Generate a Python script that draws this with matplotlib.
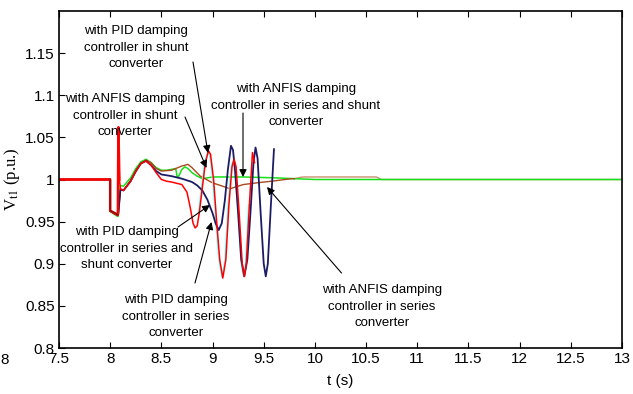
import matplotlib
matplotlib.use("Agg")
import matplotlib.pyplot as plt
from matplotlib import font_manager

# ---------------- data ----------------
t_green = [7.5, 8.0, 8.0, 8.075, 8.08, 8.1, 8.13, 8.2, 8.25, 8.3, 8.35, 8.4, 8.45, 8.5,
           8.55, 8.6, 8.64, 8.655, 8.67, 8.7, 8.73, 8.76, 8.8, 8.85, 8.9, 9.0, 9.3, 9.6,
           9.8, 10.0, 13.0]
v_green = [1.0, 1.0, 0.962, 0.956, 0.96, 0.993, 0.992, 1.002, 1.013, 1.021, 1.024, 1.02,
           1.014, 1.011, 1.011, 1.012, 1.013, 1.003, 1.004, 1.012, 1.015, 1.013, 1.008,
           1.004, 1.001, 1.003, 1.003, 1.002, 1.001, 1.0, 1.0]

t_brown = [7.5, 8.0, 8.0, 8.075, 8.08, 8.1, 8.13, 8.2, 8.3, 8.35, 8.4, 8.45, 8.5, 8.6,
           8.7, 8.76, 8.8, 8.88, 9.0, 9.1, 9.17, 9.3, 9.43, 9.58, 9.76, 9.8]
v_brown = [1.0, 1.0, 0.962, 0.957, 0.96, 0.988, 0.987, 0.999, 1.019, 1.023, 1.02, 1.013,
           1.01, 1.011, 1.016, 1.018, 1.014, 1.004, 0.996, 0.992, 0.989, 0.994, 0.996,
           0.998, 1.0008, 1.001]

t_tan = [9.8, 9.88, 10.6, 10.65, 13.0]
v_tan = [1.001, 1.003, 1.003, 1.0, 1.0]

t_navy = [7.5, 8.0, 8.0, 8.075, 8.08, 8.1, 8.13, 8.2, 8.25, 8.3, 8.35, 8.4, 8.45, 8.5,
          8.55, 8.6, 8.7, 8.8, 8.85, 8.9, 8.95, 9.0, 9.03, 9.06, 9.09, 9.12, 9.15, 9.18,
          9.2, 9.22, 9.25, 9.28, 9.31, 9.34, 9.37, 9.40, 9.42, 9.44, 9.47, 9.50, 9.52,
          9.54, 9.57, 9.60]
v_navy = [1.0, 1.0, 0.963, 0.958, 0.96, 0.988, 0.987, 0.998, 1.01, 1.019, 1.022, 1.017,
          1.01, 1.006, 1.005, 1.004, 1.001, 0.997, 0.993, 0.987, 0.976, 0.96, 0.948,
          0.940, 0.948, 0.975, 1.012, 1.040, 1.035, 1.01, 0.96, 0.905, 0.885, 0.905,
          0.96, 1.02, 1.038, 1.025, 0.96, 0.90, 0.885, 0.90, 0.97, 1.036]

t_red = [7.5, 8.0, 8.0, 8.075, 8.08, 8.09, 8.1, 8.13, 8.2, 8.25, 8.3, 8.35, 8.4, 8.45,
         8.5, 8.55, 8.6, 8.7, 8.75, 8.78, 8.81, 8.83, 8.85, 8.87, 8.9, 8.93, 8.96, 8.98,
         9.01, 9.04, 9.07, 9.1, 9.13, 9.16, 9.19, 9.21, 9.23, 9.26, 9.29, 9.31, 9.33,
         9.36, 9.39, 9.41]
v_red = [1.0, 1.0, 0.963, 0.958, 1.062, 1.0, 0.989, 0.987, 0.998, 1.01, 1.019, 1.022,
         1.017, 1.008, 1.0, 0.998, 0.997, 0.994, 0.985, 0.968, 0.948, 0.9425, 0.945,
         0.96, 0.99, 1.02, 1.034, 1.03, 1.0, 0.95, 0.905, 0.883, 0.905, 0.97, 1.015,
         1.024, 1.015, 0.96, 0.9, 0.885, 0.9, 0.97, 1.032, 1.02]

t_cyan = [8.86, 8.89, 8.92, 8.95, 8.97, 9.0, 9.03, 9.06, 9.09, 9.12, 9.15, 9.18, 9.2,
          9.22, 9.25, 9.28, 9.30, 9.32, 9.35]
v_cyan = [0.96, 0.99, 1.02, 1.033, 1.03, 1.0, 0.95, 0.905, 0.884, 0.905, 0.97, 1.015,
          1.023, 1.015, 0.96, 0.9, 0.886, 0.9, 0.97]

x_ticks = [7.5, 8, 8.5, 9, 9.5, 10, 10.5, 11, 11.5, 12, 12.5, 13]
x_tick_labels = ["7.5", "8", "8.5", "9", "9.5", "10", "10.5", "11", "11.5", "12", "12.5", "13"]
y_ticks = [0.8, 0.85, 0.9, 0.95, 1.0, 1.05, 1.1, 1.15]
y_tick_labels = ["0.8", "0.85", "0.9", "0.95", "1", "1.05", "1.1", "1.15"]

# annotations: (text, text centre px, arrow tail px, arrow head px)
notes = [
    ("with PID damping\ncontroller in shunt\nconverter", (136, 48), (193, 62), (208, 153)),
    ("with ANFIS damping\ncontroller in shunt\nconverter", (125, 116), (185, 117), (206.5, 168)),
    ("with PID damping\ncontroller in series and\nshunt converter", (127, 249), (178, 227), (210, 205)),
    ("with PID damping\ncontroller in series\nconverter", (176, 317), (195, 283), (211.5, 222)),
    ("with ANFIS damping\ncontroller in series and shunt\nconverter", (296, 106), (243, 113), (243, 177)),
    ("with ANFIS damping\ncontroller in series\nconverter", (382, 307), (341.5, 273), (267, 187)),
]

# ---------------- style ----------------
avail = {f.name for f in font_manager.fontManager.ttflist}
sans = "Liberation Sans Narrow" if "Liberation Sans Narrow" in avail else "Liberation Sans"
plt.rcParams["font.family"] = [sans, "DejaVu Sans"]
plt.rcParams["mathtext.fontset"] = "stix"

W, H = 633, 394
fig = plt.figure(figsize=(W / 100, H / 100), dpi=100)
L, R, B, T = 59, 622, 348, 11
ax = fig.add_axes([L / W, 1 - B / H, (R - L) / W, (B - T) / H])

ax.plot(t_tan, v_tan, color="#c8906e", lw=1.0)
ax.plot(t_green, v_green, color="#18e018", lw=1.1)
ax.plot(t_brown, v_brown, color="#a84a1c", lw=1.0)
ax.plot(t_cyan, v_cyan, color="#7fffff", lw=1.0)
ax.plot(t_navy, v_navy, color="#1c1c66", lw=1.3)
ax.plot(t_red, v_red, color="#ff0000", lw=1.1)
ax.plot(t_red[:6], v_red[:6], color="#ff0000", lw=1.8)
ax.plot([8.0, 8.0, 8.075], [1.0, 0.963, 0.958], color="#8a1010", lw=1.1)

ax.set_xlim(7.5, 13)
ax.set_ylim(0.8, 1.2)
ax.set_xticks(x_ticks)
ax.set_xticklabels(x_tick_labels)
ax.set_yticks(y_ticks)
ax.set_yticklabels(y_tick_labels)
ax.tick_params(direction="in", top=True, right=False, length=4, width=0.8,
               labelsize=11, pad=3, colors="black")
for s in ax.spines.values():
    s.set_linewidth(1.2)

ax.set_xlabel("t (s)", fontsize=11, labelpad=6)
ax.set_ylabel(r"V$_{\rm t1}$ (p.u.)", fontsize=12, family="Liberation Serif")
ax.yaxis.set_label_coords((22 - L) / (R - L), 0.5)


def px2data(p):
    x, y = p
    return (7.5 + (x - L) / (R - L) * 5.5, 0.8 + (B - y) / (B - T) * 0.4)


for txt, c, tail, head in notes:
    ax.text(*px2data(c), txt, ha="center", va="center", fontsize=9.5,
            linespacing=1.5, clip_on=False)
    ax.annotate("", xy=px2data(head), xytext=px2data(tail),
                arrowprops=dict(arrowstyle="-|>", color="black", lw=0.8,
                                mutation_scale=11, shrinkA=0, shrinkB=0))

fig.text(0 / W, 1 - 360 / H, "8", fontsize=11, ha="left", va="center")

fig.savefig("out.png", dpi=100)
